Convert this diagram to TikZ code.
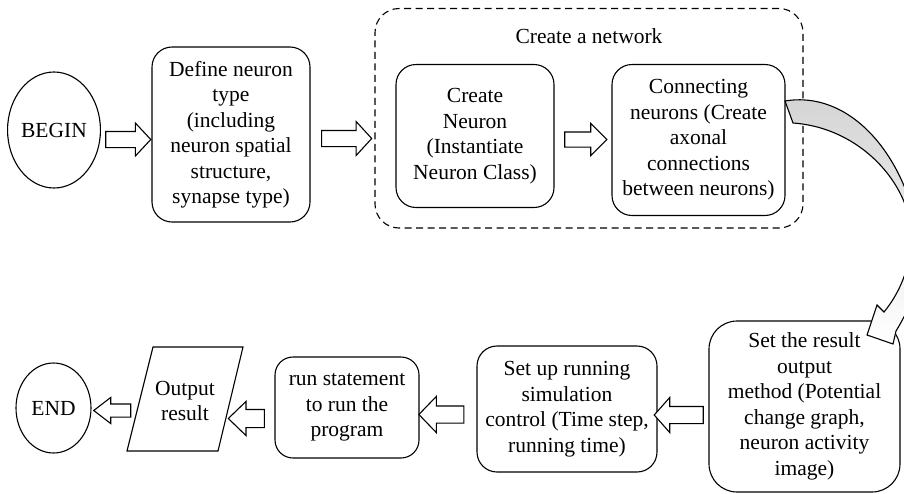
\documentclass[tikz,border=0pt]{standalone}
\usepackage{fontspec}
\setmainfont{Liberation Serif}
\usetikzlibrary{shapes.geometric,shapes.arrows}
\newcommand\boxfont{\fontsize{21.5}{25.5}\selectfont}
\definecolor{bandgray}{RGB}{211,211,211}
\tikzset{
  flowbox/.style={draw, rounded corners=20pt, align=center, inner sep=0pt, font=\boxfont},
  oval/.style={draw, ellipse, inner sep=0pt, font=\boxfont},
  harrow/.style n args={4}{single arrow, draw, fill=white, inner xsep=0pt,
    inner ysep=#3, minimum height=#1, single arrow head extend=#2,
    single arrow tip angle=#4},
  leftward/.style={shape border rotate=180},
  netframe/.style={draw, dash pattern=on 7pt off 4.5pt, rounded corners=24pt},
}
\begin{document}
\begin{tikzpicture}[x=1pt, y=-1pt, line width=1.1pt]
\useasboundingbox (0,0) rectangle (904,493);

% top row
\node[oval, minimum width=88pt, minimum height=116pt] (begin) at (54,130) {BEGIN};
\node[flowbox, minimum width=158pt, minimum height=175pt] (define) at (231,134.5)
  {Define neuron\\type\\(including\\neuron spatial\\structure,\\synapse type)};

% network group
\node[netframe, minimum width=428pt, minimum height=219.5pt] (network) at (589,118.25) {};
\node[font=\boxfont] (netlabel) at (589,36) {Create a network};
\node[flowbox, minimum width=158pt, minimum height=143pt] (create) at (475,136)
  {Create\\Neuron\\(Instantiate\\Neuron Class)};
\node[flowbox, minimum width=173pt, minimum height=151pt] (connect) at (698.5,140)
  {Connecting\\neurons (Create\\axonal\\connections\\between neurons)};

% bottom row
\node[flowbox, rounded corners=28pt, minimum width=191pt, minimum height=171pt] (result) at (804.5,406.5)
  {Set the result\\output\\method (Potential\\change graph,\\neuron activity\\image)};
\node[flowbox, minimum width=180pt, minimum height=126pt] (setup) at (567,409)
  {Set up running\\simulation\\control (Time step,\\running time)};
\node[flowbox, rounded corners=18pt, minimum width=144pt, minimum height=101pt] (run) at (347,407.5)
  {run statement\\to run the\\program};
\coordinate (obl) at (127,451);
\coordinate (otl) at (153,347);
\coordinate (otr) at (243,347);
\coordinate (obr) at (218,451);
\draw (obl) -- (otl) -- (otr) -- (obr) -- cycle;
\node[font=\boxfont, align=center, inner sep=0pt] (output) at (185,401) {Output\\result};
\node[oval, minimum width=75pt, minimum height=90pt] (end) at (53.5,408) {END};

% hollow block arrows between the steps
\node[harrow={45pt}{8.5pt}{7.5pt}{94}] (a1) at (124.5,139.5) {};
\node[harrow={50pt}{9pt}{7.5pt}{95}] (a2) at (343,138.5) {};
\node[harrow={42pt}{8.5pt}{7pt}{90}] (a3) at (582,139.5) {};
\node[harrow={49pt}{9pt}{8pt}{97}, leftward] (a4) at (682.5,415) {};
\node[harrow={45pt}{9.5pt}{8pt}{92}, leftward] (a5) at (445.5,414.5) {};
\node[harrow={36pt}{8pt}{8.5pt}{88}, leftward] (a6) at (251,418.5) {};
\node[harrow={37pt}{6.5pt}{6pt}{75}, leftward] (a7) at (116.5,410.5) {};

% curved arrow from the network down to the output settings
\begin{scope}
  \clip (0,0) rectangle (904,493);
  \coordinate (tailtop) at (785,101);
  \coordinate (tailbot) at (793,123);
  \shade[draw, top color=bandgray, middle color=bandgray!75, bottom color=white]
    (tailtop) .. controls (850,90) and (905,155) .. (918,235)
    .. controls (921,280) and (912,305) .. (896,331)
    -- (893,344) -- (867,335) -- (877,305) -- (884,312)
    .. controls (902,290) and (912,262) .. (911,232)
    .. controls (909,185) and (862,128) .. (tailbot) -- cycle;
\end{scope}
\end{tikzpicture}
\end{document}
